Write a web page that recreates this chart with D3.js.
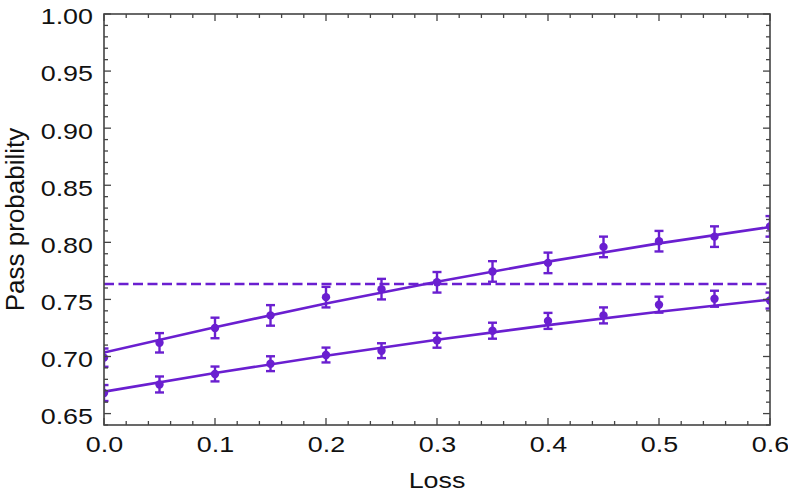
<!DOCTYPE html>
<html><head><meta charset="utf-8">
<script src="https://cdn.jsdelivr.net/npm/d3@7"></script>
<style>body{margin:0;background:#fff}svg{display:block}text{font-family:"Liberation Sans",Arial,Helvetica,sans-serif}</style>
</head><body><svg id="c" width="788" height="493"></svg>
<script>
const lossPts = [0,0.05,0.1,0.15,0.2,0.25,0.3,0.35,0.4,0.45,0.5,0.55,0.6];
const upperVals = [0.699,0.712,0.725,0.736,0.752,0.759,0.765,0.7745,0.782,0.796,0.801,0.805,0.814];
const upperErr  = [0.008,0.0085,0.009,0.009,0.009,0.009,0.009,0.009,0.009,0.009,0.009,0.009,0.009];
const lowerVals = [0.668,0.6755,0.6847,0.6937,0.7013,0.7051,0.7142,0.7226,0.7312,0.736,0.7454,0.7506,0.749];
const lowerErr  = [0.007,0.007,0.0065,0.0065,0.0065,0.0065,0.0065,0.007,0.007,0.007,0.007,0.007,0.007];
const fitLoss  = [0,0.1,0.2,0.3,0.4,0.5,0.6];
const upperFit = [0.7035,0.7257,0.7464,0.7655,0.7831,0.7991,0.8134];
const lowerFit = [0.6692,0.6855,0.7007,0.7147,0.7275,0.7392,0.7498];
const thresholdVal = 0.7635;
const xTicks = [0,0.1,0.2,0.3,0.4,0.5,0.6];
const yTicks = [0.65,0.70,0.75,0.80,0.85,0.90,0.95,1.00];

const svg = d3.select("#c");
const L=104,R=770,T=14,B=425;
const col="#6a1fd0";
const x=d3.scaleLinear().domain([0,0.6]).range([L,R]);
const y=d3.scaleLinear().domain([0.64,1.0]).range([B,T]);

svg.append("defs").append("clipPath").attr("id","clip").append("rect")
  .attr("x",L).attr("y",T).attr("width",R-L).attr("height",B-T);

const g=svg.append("g").attr("clip-path","url(#clip)");
g.append("line").attr("x1",x(0)).attr("x2",x(0.6)).attr("y1",y(thresholdVal)).attr("y2",y(thresholdVal))
  .attr("stroke",col).attr("stroke-width",2.6).attr("stroke-dasharray","10,4.5");
const line=d3.line().x((d,i)=>x(fitLoss[i])).y(d=>y(d)).curve(d3.curveMonotoneX);
[upperFit,lowerFit].forEach(f=>{
  g.append("path").attr("d",line(f)).attr("fill","none").attr("stroke",col).attr("stroke-width",2.6);
});
[[upperVals,upperErr],[lowerVals,lowerErr]].forEach(([vals,errs])=>{
  vals.forEach((v,i)=>{
    const cx=x(lossPts[i]);
    const y1=y(v-errs[i]), y2=y(v+errs[i]);
    g.append("line").attr("x1",cx).attr("x2",cx).attr("y1",y1).attr("y2",y2).attr("stroke",col).attr("stroke-width",2.4);
    [y1,y2].forEach(yy=>g.append("line").attr("x1",cx-4.5).attr("x2",cx+4.5).attr("y1",yy).attr("y2",yy).attr("stroke",col).attr("stroke-width",2.4));
    g.append("circle").attr("cx",cx).attr("cy",y(v)).attr("r",4.2).attr("fill",col);
  });
});

const fc="#444";
const axG=svg.append("g");
const xMinor=d3.range(0,0.6001,0.02), yMinor=d3.range(0.64,1.0001,0.01);
xMinor.forEach(t=>{
  const major=Math.abs(t*10-Math.round(t*10))<1e-6;
  const len=major?7:4;
  axG.append("line").attr("x1",x(t)).attr("x2",x(t)).attr("y1",B).attr("y2",B-len).attr("stroke",fc).attr("stroke-width",1.3);
  axG.append("line").attr("x1",x(t)).attr("x2",x(t)).attr("y1",T).attr("y2",T+len).attr("stroke",fc).attr("stroke-width",1.3);
});
yMinor.forEach(t=>{
  const major=Math.abs(t*20-Math.round(t*20))<1e-6;
  const len=major?7:4;
  axG.append("line").attr("x1",L).attr("x2",L+len).attr("y1",y(t)).attr("y2",y(t)).attr("stroke",fc).attr("stroke-width",1.3);
  axG.append("line").attr("x1",R).attr("x2",R-len).attr("y1",y(t)).attr("y2",y(t)).attr("stroke",fc).attr("stroke-width",1.3);
});
axG.append("rect").attr("x",L).attr("y",T).attr("width",R-L).attr("height",B-T).attr("fill","none").attr("stroke",fc).attr("stroke-width",1.6);

const xa=svg.append("g").attr("transform",`translate(0,${B})`)
  .call(d3.axisBottom(x).tickValues(xTicks).tickFormat(d3.format(".1f")).tickSize(0).tickPadding(12));
const ya=svg.append("g").attr("transform",`translate(${L},0)`)
  .call(d3.axisLeft(y).tickValues(yTicks).tickFormat(d3.format(".2f")).tickSize(0).tickPadding(8.8));
[xa,ya].forEach(a=>{a.select(".domain").remove();a.selectAll("text").attr("font-size",21.5).attr("fill","#111").attr("font-family","Liberation Sans, Arial, sans-serif").attr("transform","scale(1.25,1)");});
ya.selectAll("text").attr("dy","0.46em");

svg.append("text").attr("transform",`translate(${(L+R)/2},488) scale(1.25,1)`).attr("text-anchor","middle").attr("font-size",21.5).attr("fill","#111").text("Loss");
svg.append("text").attr("transform",`translate(23.5,${(T+B)/2}) rotate(-90)`).attr("text-anchor","middle").attr("font-size",26).attr("fill","#111").text("Pass probability");
</script></body></html>
